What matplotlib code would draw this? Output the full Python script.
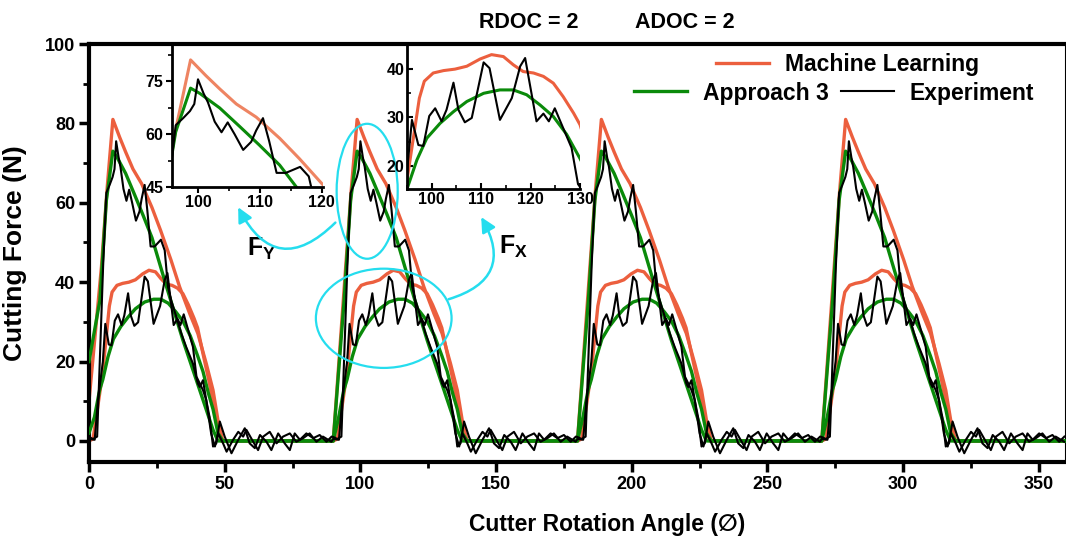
import numpy as np
import matplotlib
matplotlib.use('Agg')
import matplotlib.pyplot as plt
from matplotlib.patches import Ellipse, FancyArrowPatch
from matplotlib.lines import Line2D
from matplotlib.ticker import MultipleLocator

plt.rcParams['font.family'] = ['Liberation Sans', 'DejaVu Sans']
plt.rcParams['font.weight'] = 'bold'
plt.rcParams['mathtext.fontset'] = 'custom'
plt.rcParams['mathtext.rm'] = 'Liberation Sans:bold'
plt.rcParams['mathtext.bf'] = 'Liberation Sans:bold'
plt.rcParams['mathtext.it'] = 'Liberation Sans:bold'

# one cutter pass (local angle 0..90)
ml_fy_x = [0, 4.6, 6.6, 8.8, 11.3, 13.5, 16.2, 19.4, 23.2, 26.4, 30.2, 33.4, 37.1, 40.1, 43.2, 45.7, 47.5, 49.3, 90]
ml_fy_y = [0, 44, 63, 81, 76.5, 72.8, 68.5, 64.8, 58.8, 53.0, 45.6, 38.8, 32.1, 27.1, 19.5, 12.8, 5.3, 0, 0]

ml_fx_x = [0, 1.5, 5.0, 7.5, 8.5, 10.3, 12.4, 14.7, 17.1, 19.8, 22.1, 24.5, 26.5, 28.5, 30.6, 32.6, 34.6, 36.6,
           38.7, 40.0, 42.0, 44.4, 46.9, 48.7, 90]
ml_fx_y = [0, 0.5, 17, 34, 37.5, 39.2, 39.7, 40.0, 40.6, 42.1, 43.0, 42.6, 40.9, 39.5, 39.2, 38.5, 37.1, 34.3,
           30.9, 28.5, 22.0, 14.5, 5.3, 0, 0]

a3_fy_x = [0, 4.0, 6.4, 8.8, 10.3, 13.5, 16.7, 19.9, 23.2, 28.5, 34.6, 40.8, 45.7, 47.5, 90]
a3_fy_y = [0, 35.4, 60.6, 73.0, 71.5, 67.4, 62.2, 56.9, 51.2, 39.0, 25.4, 12.8, 2.8, 0, 0]

a3_fx_x = [0, 2.0, 3.9, 5.1, 7.0, 9.0, 11.7, 14.4, 17.1, 20.5, 23.8, 26.5, 29.2, 31.9, 34.6, 37.3, 40.0, 42.0,
           44.0, 45.7, 47.5, 49.3, 90]
a3_fx_y = [0, 6.0, 12.8, 15.5, 21.2, 25.7, 28.8, 31.2, 33.3, 35.0, 35.7, 35.7, 34.7, 32.6, 30.2, 26.5, 21.5, 17.5,
           12.0, 8.0, 2.0, 0, 0]

exp_fy_x = [0, 1.5, 3.0, 5.2, 6.4, 7.6, 8.7, 9.4, 10.0, 10.9,
            11.6, 12.7, 13.8, 14.8, 15.9, 17.3, 18.6, 19.4, 20.5, 21.5,
            22.7, 24.2, 26.5, 27.9, 29.1, 30.3, 32.2, 34.0, 35.8, 38.3,
            40.1, 40.8, 42.0, 43.2, 44.4, 45.7, 46.9, 48.2, 50.0, 52.5,
            55.0, 57.4, 59.2, 61.1, 63.0, 65.4, 67.2, 69.7, 72.1, 74.0,
            75.8, 77.7, 80.1, 82.6, 85.0, 87.5, 89.4]
exp_fy_y = [1.0, 0.5, 1.1, 44.0, 62.5, 64.5, 66.5, 68.5, 75.5, 71.5,
            69.0, 63.5, 60.5, 63.3, 60.0, 55.5, 57.8, 61.0, 64.5, 58.0,
            49.0, 49.0, 50.7, 48.0, 38.8, 35.4, 31.2, 27.1, 23.7, 19.5,
            14.5, 13.6, 15.3, 10.3, 6.1, -1.4, -0.6, 4.9, 1.1, -3.1,
            0.3, 3.2, -0.6, -1.8, 1.5, -0.2, -2.3, 1.9, -0.6, -2.3,
            1.9, 0.3, 1.9, 0.7, 1.5, -0.2, 1.1]

exp_fx_x = [0, 2.1, 3.3, 5.1, 6.0, 7.3, 8.3, 9.5, 10.7, 12.0,
            13.0, 14.4, 15.4, 16.7, 18.1, 20.5, 21.7, 23.8, 26.2, 27.9,
            28.9, 31.2, 32.6, 33.7, 34.9, 36.3, 38.3, 39.6, 40.8, 42.0,
            43.2, 45.0, 46.4, 47.6, 49.4, 50.7, 53.1, 55.0, 56.8, 58.0,
            60.5, 62.3, 64.2, 66.6, 69.1, 71.5, 74.0, 76.4, 78.9, 81.3,
            83.8, 86.2, 89.3]
exp_fx_y = [0.5, 0.3, 10.3, 19.9, 29.5, 24.3, 24.1, 30.3, 31.9, 29.2,
            31.6, 37.2, 31.6, 29.0, 29.9, 41.4, 40.2, 29.5, 34.0, 40.6,
            42.3, 29.2, 30.8, 29.2, 31.9, 28.5, 23.7, 16.2, 14.5, 12.8,
            10.3, 1.9, -1.4, 1.9, -0.6, -2.7, 0.3, 2.3, 1.1, 2.8,
            -0.2, -2.3, 1.1, 2.3, -0.6, 1.1, 1.9, -0.2, 0.7, 1.9,
            -0.2, 1.1, -0.2]

# values at angle 0 where the first pass is cut by the axis
first_start = {'ml_fy': 10, 'ml_fx': 0, 'a3_fy': 20, 'a3_fx': 2}

pass_offsets = [0, 90, 180, 270]

red = '#EC5F3E'
red_light = '#EE8462'
green = '#0A8A0A'
cyan = '#25DDEE'


def repeat_passes(local_x, local_y, start=None):
    x = np.concatenate([np.array(local_x) + off for off in pass_offsets])
    y = np.concatenate([np.array(local_y, dtype=float) for _ in pass_offsets])
    if start is not None:
        y[0] = start
    return x, y


ml_fy = repeat_passes(ml_fy_x, ml_fy_y, first_start['ml_fy'])
ml_fx = repeat_passes(ml_fx_x, ml_fx_y, first_start['ml_fx'])
a3_fy = repeat_passes(a3_fy_x, a3_fy_y, first_start['a3_fy'])
a3_fx = repeat_passes(a3_fx_x, a3_fx_y, first_start['a3_fx'])
exp_fy = repeat_passes(exp_fy_x, exp_fy_y)
exp_fx = repeat_passes(exp_fx_x, exp_fx_y)

W, H = 1066, 538
fig = plt.figure(figsize=(W / 100, H / 100), dpi=100)


def fig_rect(left, top, right, bottom):
    return [left / W, 1 - bottom / H, (right - left) / W, (bottom - top) / H]


ax = fig.add_axes(fig_rect(89, 44, 1066, 462))

for curve in (ml_fy, ml_fx):
    ax.plot(*curve, color=red, lw=2.4, zorder=2)
for curve in (a3_fy, a3_fx):
    ax.plot(*curve, color=green, lw=2.4, zorder=3)
for curve in (exp_fy, exp_fx):
    ax.plot(*curve, color='black', lw=1.5, zorder=4)

ax.set_xlim(0, 360)
ax.set_ylim(-5.3, 100)
ax.xaxis.set_major_locator(MultipleLocator(50))
ax.xaxis.set_minor_locator(MultipleLocator(25))
ax.yaxis.set_major_locator(MultipleLocator(20))
ax.yaxis.set_minor_locator(MultipleLocator(10))
ax.tick_params(which='major', direction='out', length=7, width=2.5, labelsize=13, pad=3)
ax.tick_params(which='minor', direction='out', length=4, width=2)
for side in ('left', 'bottom', 'top'):
    ax.spines[side].set_linewidth(3)
ax.spines['right'].set_linewidth(1.5)
for lab in ax.get_xticklabels() + ax.get_yticklabels():
    lab.set_fontweight('bold')

ax.set_xlabel('Cutter Rotation Angle (\u2205)', fontsize=16.5, fontweight='bold')
ax.xaxis.set_label_coords(0.530, -0.122)
ax.set_ylabel('Cutting Force (N)', fontsize=19, fontweight='bold')
ax.yaxis.set_label_coords(-0.063, 0.5)

fig.text(529 / W, 1 - 22 / H, 'RDOC = 2', ha='center', va='center', fontsize=15.5, fontweight='bold')
fig.text(685 / W, 1 - 22 / H, 'ADOC = 2', ha='center', va='center', fontsize=15.5, fontweight='bold')

h_ml = Line2D([], [], color=red, lw=2.4, label='Machine Learning')
h_a3 = Line2D([], [], color=green, lw=2.4, label='Approach 3')
h_exp = Line2D([], [], color='black', lw=1.5, label='Experiment')
leg_kw = dict(frameon=False, handlelength=2.3, handletextpad=0.7,
              borderpad=0, borderaxespad=0, bbox_transform=fig.transFigure,
              prop={'weight': 'bold', 'size': 16.5})
leg1 = ax.legend(handles=[h_ml], loc='center left', bbox_to_anchor=(716 / W, 1 - 65 / H), **leg_kw)
ax.add_artist(leg1)
ax.legend(handles=[h_a3, h_exp], loc='center left', ncol=2, columnspacing=0.55,
          bbox_to_anchor=(634 / W, 1 - 93 / H), **leg_kw)

# cyan call-outs
ax.add_patch(Ellipse((102.5, 62.9), 22.5, 34, fill=False, edgecolor=cyan, lw=1.6, zorder=6))
ax.add_patch(Ellipse((108.6, 30.9), 50, 25, fill=False, edgecolor=cyan, lw=1.6, zorder=6))
ax.add_patch(FancyArrowPatch((91.5, 55.5), (54.5, 59.5), connectionstyle='arc3,rad=-0.7',
                             arrowstyle='-|>', mutation_scale=22, color=cyan, lw=1.8, zorder=6))
ax.add_patch(FancyArrowPatch((131.5, 35.5), (144.0, 57.0), connectionstyle='arc3,rad=0.65',
                             arrowstyle='-|>', mutation_scale=22, color=cyan, lw=1.8, zorder=6))
ax.text(63.5, 48.5, r'$\mathbf{F}_{\mathbf{Y}}$', fontsize=18, ha='center', va='center')
ax.text(156.5, 49.0, r'$\mathbf{F}_{\mathbf{X}}$', fontsize=18, ha='center', va='center')


def style_inset(axi, direction):
    axi.patch.set_alpha(0)
    axi.spines['top'].set_visible(False)
    axi.spines['right'].set_visible(False)
    axi.spines['left'].set_linewidth(2)
    axi.spines['bottom'].set_linewidth(2)
    axi.tick_params(which='major', direction=direction, length=4, width=1.5, labelsize=11.5, pad=2)
    axi.tick_params(which='minor', direction=direction, length=3, width=1.2)
    for lab in axi.get_xticklabels() + axi.get_yticklabels():
        lab.set_fontweight('bold')


# inset: F_Y of the second pass
ax_y = fig.add_axes(fig_rect(172, 44, 323, 187))
ax_y.plot(*ml_fy, color=red_light, lw=2.2)
ax_y.plot(*a3_fy, color=green, lw=2.2)
ax_y.plot(*exp_fy, color='black', lw=1.5)
ax_y.set_xlim(95.8, 120.2)
ax_y.set_ylim(45, 85.5)
ax_y.set_xticks([100, 110, 120])
ax_y.set_yticks([45, 60, 75])
ax_y.xaxis.set_minor_locator(MultipleLocator(5))
ax_y.yaxis.set_minor_locator(MultipleLocator(7.5))
style_inset(ax_y, 'out')

# inset: F_X of the second pass
ax_x = fig.add_axes(fig_rect(407, 44, 580, 189))
ax_x.plot(*ml_fx, color=red, lw=2.2)
ax_x.plot(*a3_fx, color=green, lw=2.2)
ax_x.plot(*exp_fx, color='black', lw=1.5)
ax_x.set_xlim(95, 130)
ax_x.set_ylim(15.2, 45.2)
ax_x.set_xticks([100, 110, 120, 130])
ax_x.set_yticks([20, 30, 40])
ax_x.xaxis.set_minor_locator(MultipleLocator(5))
ax_x.yaxis.set_minor_locator(MultipleLocator(5))
style_inset(ax_x, 'in')

fig.savefig('out.png', dpi=100)
